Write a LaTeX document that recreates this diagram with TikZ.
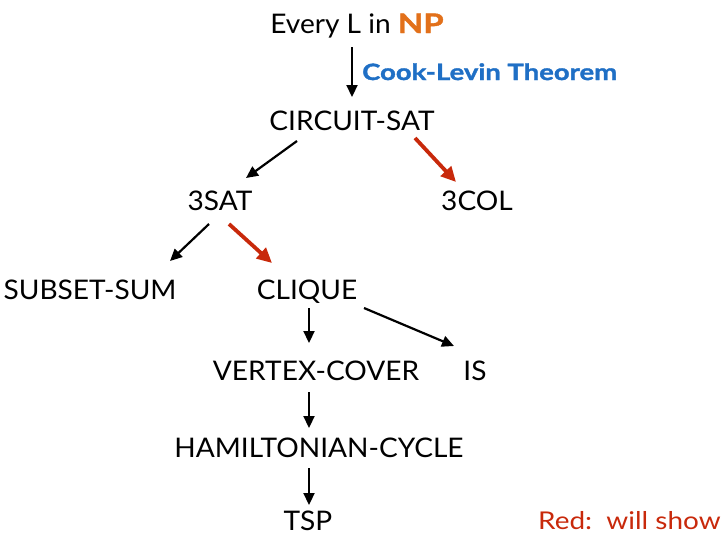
\documentclass[tikz,border=0pt]{standalone}
\usepackage{fontspec}
\setmainfont[FakeStretch=1.04]{Lato}
\newfontfamily\headfont[FakeStretch=1.22,BoldFeatures={FakeBold=1.5}]{Lato}
\newfontfamily\notefont[FakeStretch=1.14]{Lato}
\usetikzlibrary{arrows.meta}
\definecolor{npor}{HTML}{E2701A}
\definecolor{clblue}{HTML}{1F6FC5}
\definecolor{redred}{HTML}{C8290B}
\begin{document}
\begin{tikzpicture}[x=1pt,y=-1pt,
  prob/.style={inner sep=0pt,anchor=base,font=\fontsize{27}{27}\selectfont},
  blk/.style={line width=2.2pt,-{Triangle[length=12pt,width=11pt]}},
  rd/.style={draw=redred,line width=3.8pt,-{Triangle[length=15pt,width=14pt]},color=redred}]
\useasboundingbox (0,0) rectangle (722,536);
\node[prob] (every) at (357,33) {Every L in {\headfont\bfseries\color{npor}NP}};
\node[inner sep=0pt,anchor=base west,font=\fontsize{22.5}{22.5}\headfont\bfseries,text=clblue] (cook) at (362,80) {Cook-Levin Theorem};
\node[prob] (cs) at (352,130) {CIRCUIT-SAT};
\node[prob] (sat) at (220,210) {3SAT};
\node[prob] (col) at (477,210) {3COL};
\node[prob] (ss) at (90,299) {SUBSET-SUM};
\node[prob] (cl) at (307,299) {CLIQUE};
\node[prob] (vc) at (316,380) {VERTEX-COVER};
\node[prob] (is) at (475,380) {IS};
\node[prob] (hc) at (319,457) {HAMILTONIAN-CYCLE};
\node[prob] (tsp) at (308,530) {TSP};
\node[inner sep=0pt,anchor=base west,font=\fontsize{24.5}{24.5}\notefont,text=redred] (note) at (538,529) {Red:\ \ will show};
% reductions
\draw[blk] ([shift={(-5,14)}]every.base) -- ([shift={(0,-33)}]cs.base);
\draw[blk] ([shift={(-55,11)}]cs.base) -- ([shift={(26,-32)}]sat.base);
\draw[rd] ([shift={(63,8)}]cs.base) -- ([shift={(-21,-28)}]col.base);
\draw[blk] ([shift={(-11,14)}]sat.base) -- ([shift={(80,-38)}]ss.base);
\draw[rd] ([shift={(9,14)}]sat.base) -- ([shift={(-35,-36)}]cl.base);
\draw[blk] ([shift={(2,9)}]cl.base) -- ([shift={(-7,-37)}]vc.base);
\draw[blk] ([shift={(57,9)}]cl.base) -- ([shift={(-21,-34)}]is.base);
\draw[blk] ([shift={(-7,12)}]vc.base) -- ([shift={(-10,-29)}]hc.base);
\draw[blk] ([shift={(-10,11)}]hc.base) -- ([shift={(1,-25)}]tsp.base);
\end{tikzpicture}
\end{document}
